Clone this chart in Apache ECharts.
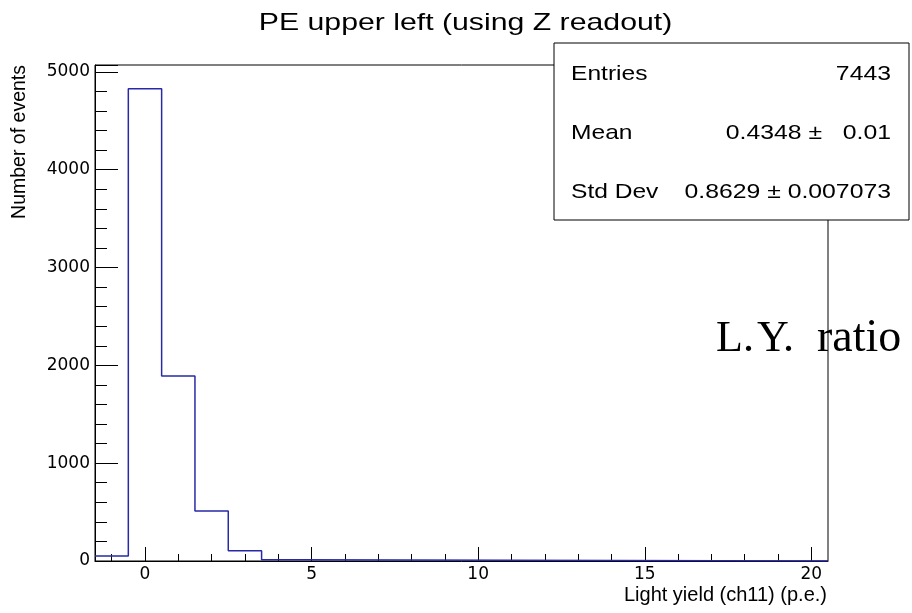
<!DOCTYPE html>
<html>
<head>
<meta charset="utf-8">
<script src="https://cdn.jsdelivr.net/npm/echarts@6/dist/echarts.min.js"></script>
<style>html,body{margin:0;padding:0;background:#fff}#c{width:912px;height:613px}</style>
</head>
<body>
<div id="c"></div>
<script>
// ---- data ----
const binLowEdges = [-1.5, -0.5, 0.5, 1.5, 2.5, 3.5];
const counts = [51, 4826, 1892, 511, 105, 12];
const binWidth = 1;
const xRange = [-1.5, 20.5];
const yRange = [0, 5070];
const xMajorTicks = [0, 5, 10, 15, 20];
const statsLabels = ['Entries', 'Mean', 'Std Dev'];
const statsValues = ['7443', '0.4348 \u00b1   0.01', '0.8629 \u00b1 0.007073'];

// ---- build step outline ----
const stepData = binLowEdges.map((e, i) => [e, counts[i]]);
stepData.push([binLowEdges[binLowEdges.length - 1] + binWidth, 0]);
stepData.push([xRange[1], 0]);

const xMinorTicks = [];
for (let v = Math.ceil(xRange[0]); v <= Math.floor(xRange[1]); v++) {
  if (xMajorTicks.indexOf(v) < 0) xMinorTicks.push(v);
}

const FONT = 'Liberation Sans, Arial, Helvetica, sans-serif';
const LBL = 'DejaVu Sans, sans-serif';
const chart = echarts.init(document.getElementById('c'), null, {renderer: 'canvas'});

const gridL = 95, gridT = 65, gridR = 828, gridB = 561;

chart.setOption({
  animation: false,
  backgroundColor: '#fff',
  grid: {
    left: gridL, top: gridT, right: 912 - gridR, bottom: 613 - gridB,
    show: true, borderColor: '#000', borderWidth: 1, backgroundColor: 'transparent',
    containLabel: false, outerBoundsMode: 'none'
  },
  xAxis: [{
    type: 'value', min: xRange[0], max: xRange[1], position: 'bottom',
    splitLine: {show: false},
    axisLine: {show: true, onZero: false, lineStyle: {color: '#000', width: 1}},
    axisTick: {show: true, inside: true, length: 14, lineStyle: {color: '#000'}, customValues: xMajorTicks},
    axisLabel: {show: true, customValues: xMajorTicks, color: '#000', fontFamily: LBL, fontSize: 17, margin: 5}
  }, {
    type: 'value', min: xRange[0], max: xRange[1], position: 'bottom',
    splitLine: {show: false},
    axisLine: {show: false},
    axisTick: {show: true, inside: true, length: 7, lineStyle: {color: '#000'}, customValues: xMinorTicks},
    axisLabel: {show: false, customValues: xMinorTicks}
  }],
  yAxis: {
    type: 'value', min: yRange[0], max: yRange[1], interval: 1000,
    splitLine: {show: false},
    axisLine: {show: true, onZero: false, lineStyle: {color: '#000', width: 1}},
    axisTick: {show: true, inside: true, length: 23, lineStyle: {color: '#000'}},
    minorTick: {show: true, splitNumber: 5, length: 12, lineStyle: {color: '#000'}},
    axisLabel: {color: '#000', fontFamily: LBL, fontSize: 17, margin: 5,
      formatter: v => (v % 1000 === 0 ? String(v) : '')}
  },
  series: [{
    type: 'line', step: 'end', data: stepData, showSymbol: false, symbol: 'none',
    lineStyle: {color: '#2828a8', width: 1.5}, z: 3
  }],
  graphic: [
    {type: 'text', x: 465.5, y: 23, scaleX: 1.26,
      style: {text: 'PE upper left (using Z readout)', font: '24px ' + FONT, fill: '#000', align: 'center', verticalAlign: 'middle'}},
    {type: 'text', x: 20, y: 65, rotation: Math.PI / 2,
      style: {text: 'Number of events', font: '19.5px ' + FONT, fill: '#000', align: 'right', verticalAlign: 'middle'}},
    {type: 'text', x: 827, y: 595,
      style: {text: 'Light yield (ch11) (p.e.)', font: '20px ' + FONT, fill: '#000', align: 'right', verticalAlign: 'middle'}},
    {type: 'rect', shape: {x: 554, y: 43, width: 355, height: 177}, z: 10,
      style: {fill: '#fff', stroke: '#000', lineWidth: 1}},
    ...statsLabels.map((t, i) => ({type: 'text', x: 571, y: 74.5 + i * 58.7, z: 11, scaleX: 1.17,
      style: {text: t, font: '21px ' + FONT, fill: '#000', align: 'left', verticalAlign: 'middle'}})),
    ...statsValues.map((t, i) => ({type: 'text', x: 891, y: 74.5 + i * 58.7, z: 11, scaleX: 1.18,
      style: {text: t, font: '21px ' + FONT, fill: '#000', align: 'right', verticalAlign: 'middle'}})),
    {type: 'text', x: 716, y: 317, z: 12, style: {text: 'L.', font: '44px Liberation Serif, serif', fill: '#000', verticalAlign: 'top'}},
    {type: 'text', x: 757, y: 317, z: 12, style: {text: 'Y.', font: '44px Liberation Serif, serif', fill: '#000', verticalAlign: 'top'}},
    {type: 'text', x: 817, y: 316, z: 12, style: {text: 'ratio', font: '46px Liberation Serif, serif', fill: '#000', verticalAlign: 'top'}}
  ]
});
</script>
</body>
</html>
